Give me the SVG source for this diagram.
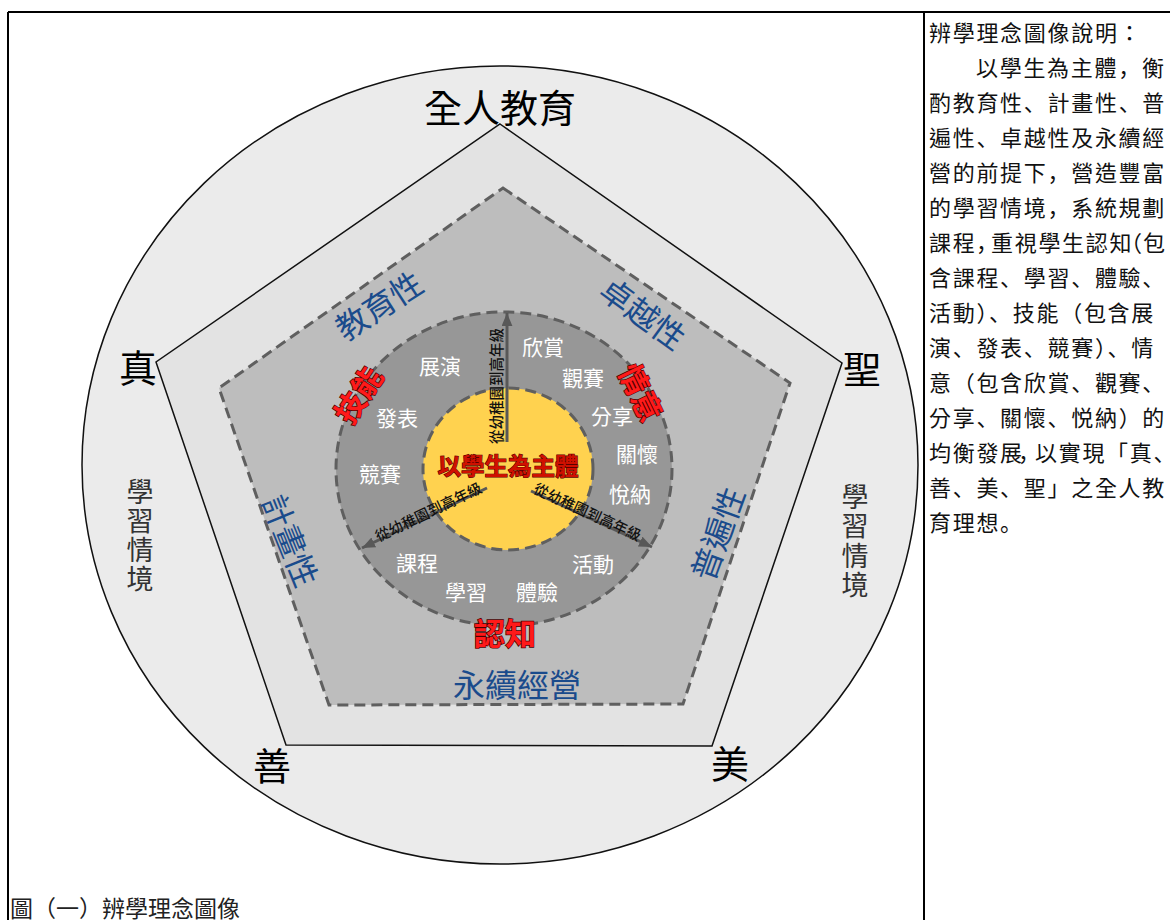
<svg xmlns="http://www.w3.org/2000/svg" width="1170" height="920" viewBox="0 0 1170 920">
<defs>
<style>
text{font-family:"Noto Sans CJK TC","Noto Sans CJK JP",sans-serif;dominant-baseline:central}
.p{font-family:"Noto Sans CJK JP","Noto Sans CJK TC",sans-serif}
.para{font-size:22px;letter-spacing:1.7px;fill:#111}
.corner{font-size:38px;fill:#000;text-anchor:middle}
.ctx{font-size:27px;fill:#333;text-anchor:middle}
.blue{font-size:32px;fill:#1a4b8c;text-anchor:middle}
.red{font-size:30px;font-weight:bold;fill:#ff1a1a;stroke:#4a0000;stroke-width:1.4px;paint-order:stroke;text-anchor:middle}
.white{font-size:21px;fill:#fff;text-anchor:middle}
.arrtxt{font-size:14.5px;fill:#111;text-anchor:middle;font-weight:500}
.dash{stroke:#5f5f5f;stroke-width:3;stroke-dasharray:11 6;fill:none}
.shaft{stroke:#585858;stroke-width:3;fill:none}
</style>
<marker id="ah" viewBox="0 0 12 10" refX="12" refY="5" markerWidth="13" markerHeight="11" markerUnits="userSpaceOnUse" orient="auto">
<path d="M0,0 L12,5 L0,10 z" fill="#585858"/>
</marker>
</defs>
<rect width="1170" height="920" fill="#fff"/>
<g id="frame" stroke="#000" stroke-width="2" fill="none">
<line x1="8" y1="12" x2="1170" y2="12"/>
<line x1="8" y1="12" x2="8" y2="920"/>
<line x1="924" y1="12" x2="924" y2="920"/>
</g>
<g id="outer-circle">
<ellipse cx="500" cy="465" rx="418" ry="399" fill="#ebebeb" stroke="#111" stroke-width="1.5"/>
</g>
<g id="outer-pentagon">
<polygon points="500,124 842,363 712,746 286,745 156,362" fill="#e3e3e3" stroke="#111" stroke-width="1.5"/>
</g>
<g id="inner-pentagon">
<polygon points="503,188 790,383 683,704 329,705 219,388" fill="#bdbdbd" class="dash" style="fill:#bdbdbd"/>
</g>
<g id="ring">
<ellipse cx="504" cy="469" rx="168" ry="157" class="dash" style="fill:#979797"/>
</g>
<g id="core">
<ellipse cx="508" cy="469" rx="85" ry="81" class="dash" style="fill:#ffd24f"/>
</g>
<g id="connectors">
<line class="shaft" x1="507" y1="442" x2="507" y2="313" marker-end="url(#ah)"/>
<line class="shaft" x1="487" y1="488" x2="362" y2="548" marker-end="url(#ah)"/>
<line class="shaft" x1="531" y1="491" x2="652" y2="547" marker-end="url(#ah)"/>
<text class="arrtxt" transform="translate(495,386) rotate(-90)">從幼稚園到高年級</text>
<text class="arrtxt" transform="translate(428,511) rotate(-25.6)">從幼稚園到高年級</text>
<text class="arrtxt" transform="translate(588,511) rotate(24.8)">從幼稚園到高年級</text>
</g>
<g id="center-label">
<text x="508" y="465" style="font-size:23.5px;font-weight:bold;fill:#d01000;stroke:#5a0000;stroke-width:1.2px;paint-order:stroke;text-anchor:middle">以學生為主體</text>
</g>
<g id="title"><text class="corner" x="500" y="105">全人教育</text></g>
<g id="zhen"><text class="corner" x="138" y="365">真</text></g>
<g id="sheng"><text class="corner" x="862" y="366">聖</text></g>
<g id="shan"><text class="corner" x="272" y="763">善</text></g>
<g id="mei"><text class="corner" x="730" y="761">美</text></g>
<g id="context-left"><text class="ctx"><tspan x="140" y="490">學</tspan><tspan x="140" y="519">習</tspan><tspan x="140" y="548">情</tspan><tspan x="140" y="577">境</tspan></text></g>
<g id="context-right"><text class="ctx"><tspan x="855" y="495">學</tspan><tspan x="855" y="524">習</tspan><tspan x="855" y="554">情</tspan><tspan x="855" y="583">境</tspan></text></g>
<g id="principles">
<text class="blue" transform="translate(378,304) rotate(-33)">教育性</text>
<text class="blue" transform="translate(644,312) rotate(36)">卓越性</text>
<text class="blue" transform="translate(292,540) rotate(68)">計畫性</text>
<text class="blue" transform="translate(716,533) rotate(-70)">普遍性</text>
<text class="blue" x="517" y="683">永續經營</text>
</g>
<g id="domains">
<text class="red" transform="translate(357,394) rotate(-57)">技能</text>
<text class="red" transform="translate(642,392) rotate(64)">情意</text>
<text class="red" x="505" y="631" style="font-size:31px">認知</text>
</g>
<g id="items">
<text class="white" x="543" y="346">欣賞</text>
<text class="white" x="440" y="365">展演</text>
<text class="white" x="583" y="377">觀賽</text>
<text class="white" x="397" y="417">發表</text>
<text class="white" x="612" y="415">分享</text>
<text class="white" x="637" y="453">關懷</text>
<text class="white" x="380" y="473">競賽</text>
<text class="white" x="630" y="493">悅納</text>
<text class="white" x="417" y="562">課程</text>
<text class="white" x="593" y="563">活動</text>
<text class="white" x="466" y="591">學習</text>
<text class="white" x="537" y="591">體驗</text>
</g>
<g id="caption"><text x="10" y="907" style="font-size:23px;fill:#222">圖（一）辨學理念圖像</text></g>
<g id="description">
<text class="para" x="929" y="31">辨學理念圖像說明<tspan class="p">：</tspan></text>
<text class="para" x="976" y="66">以學生為主體<tspan class="p">，</tspan>衡</text>
<text class="para" x="929" y="101">酌教育性<tspan class="p">、</tspan>計畫性<tspan class="p">、</tspan>普</text>
<text class="para" x="929" y="136">遍性<tspan class="p">、</tspan>卓越性及永續經</text>
<text class="para" x="929" y="171">營的前提下<tspan class="p">，</tspan>營造豐富</text>
<text class="para" x="929" y="206">的學習情境<tspan class="p">，</tspan>系統規劃</text>
<text class="para" y="241"><tspan x="929">課程</tspan><tspan class="p" x="976">，</tspan><tspan x="991">重視學生認知</tspan><tspan class="p" x="1120">（</tspan><tspan x="1143">包</tspan></text>
<text class="para" x="929" y="276">含課程<tspan class="p">、</tspan>學習<tspan class="p">、</tspan>體驗<tspan class="p">、</tspan></text>
<text class="para" x="929" y="311">活動<tspan class="p">）、</tspan>技能<tspan class="p">（</tspan>包含展</text>
<text class="para" x="929" y="346">演<tspan class="p">、</tspan>發表<tspan class="p">、</tspan>競賽<tspan class="p">）、</tspan>情</text>
<text class="para" x="929" y="381">意<tspan class="p">（</tspan>包含欣賞<tspan class="p">、</tspan>觀賽<tspan class="p">、</tspan></text>
<text class="para" x="929" y="416">分享<tspan class="p">、</tspan>關懷<tspan class="p">、</tspan>悦納<tspan class="p">）</tspan>的</text>
<text class="para" y="451"><tspan x="929">均衡發展</tspan><tspan class="p" x="1018">，</tspan><tspan x="1035">以實現</tspan><tspan class="p">「</tspan>真<tspan class="p">、</tspan></text>
<text class="para" x="929" y="486">善<tspan class="p">、</tspan>美<tspan class="p">、</tspan>聖<tspan class="p">」</tspan>之全人教</text>
<text class="para" x="929" y="521">育理想<tspan class="p">。</tspan></text>
</g>
</svg>
